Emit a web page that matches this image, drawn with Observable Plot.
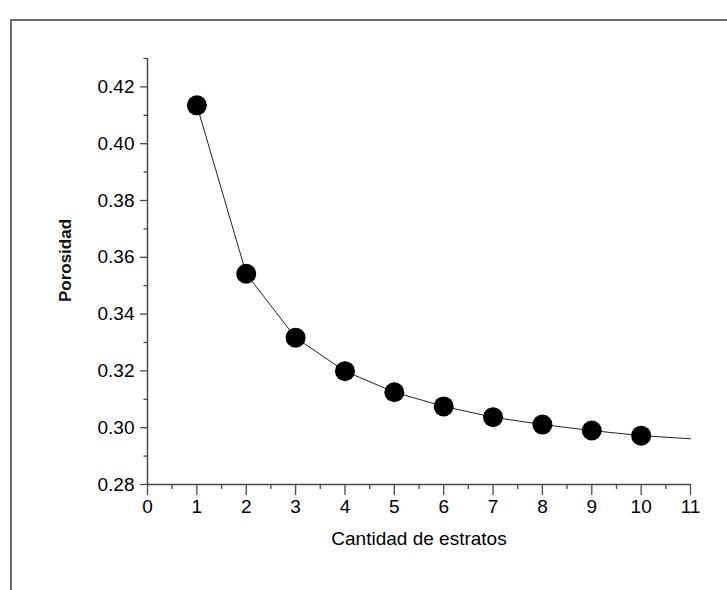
<!DOCTYPE html>
<html>
<head>
<meta charset="utf-8">
<script src="https://cdn.jsdelivr.net/npm/d3@7"></script>
<script src="https://cdn.jsdelivr.net/npm/@observablehq/plot@0.6"></script>
<style>
  html, body { margin: 0; padding: 0; background: #fff; }
  #wrap { position: relative; width: 727px; height: 590px; overflow: hidden; }
  #frame { position: absolute; left: 10px; top: 19px; right: -5px; bottom: -5px;
           border-top: 2px solid #6a6a6a; border-left: 2px solid #6a6a6a; pointer-events: none; }
  #chart { position: absolute; left: 0; top: 0; }
</style>
</head>
<body>
<div id="wrap"><div id="chart"></div><div id="frame"></div></div>
<script>
// Measured points
const estratos = [1, 2, 3, 4, 5, 6, 7, 8, 9, 10];
const porosidad = [0.4135, 0.3542, 0.3317, 0.3199, 0.3125, 0.3075, 0.3037, 0.3011, 0.2990, 0.2972];
// Fitted curve (drawn through the points and extended to 11)
const curvaX = [1, 2, 3, 4, 5, 6, 7, 8, 9, 10, 11];
const curvaY = [0.4135, 0.3542, 0.3317, 0.3199, 0.3125, 0.3075, 0.3037, 0.3011, 0.2990, 0.2972, 0.2961];
// Tick values
const xMajor = [0, 1, 2, 3, 4, 5, 6, 7, 8, 9, 10, 11];
const xMinor = [0.5, 1.5, 2.5, 3.5, 4.5, 5.5, 6.5, 7.5, 8.5, 9.5, 10.5];
const yMajor = [0.28, 0.30, 0.32, 0.34, 0.36, 0.38, 0.40, 0.42];
const yMinor = [0.29, 0.31, 0.33, 0.35, 0.37, 0.39, 0.41, 0.43];
const xLabel = "Cantidad de estratos";
const yLabel = "Porosidad";

const puntos = estratos.map((x, i) => ({x, y: porosidad[i]}));
const curva = curvaX.map((x, i) => ({x, y: curvaY[i]}));

const axisColor = "#4a4a4a";
const font = "'Liberation Sans', Arial, sans-serif";

const chart = Plot.plot({
  width: 727,
  height: 590,
  marginLeft: 147,
  marginRight: 37,
  marginTop: 58,
  marginBottom: 106,
  style: {fontFamily: font, fontSize: "18px", background: "transparent", color: "#000"},
  x: {domain: [0, 11]},
  y: {domain: [0.28, 0.43]},
  marks: [
    Plot.ruleX([0], {y1: 0.28, y2: 0.43, stroke: axisColor, strokeWidth: 1.5}),
    Plot.ruleY([0.28], {x1: 0, x2: 11, stroke: axisColor, strokeWidth: 1.5}),
    Plot.axisX({ticks: xMajor, tickSize: 11, tickPadding: 4, tickFormat: d => String(d),
      fontSize: 19, stroke: axisColor, strokeWidth: 1.3, label: null}),
    Plot.axisX({ticks: xMinor, tickSize: 5, tickFormat: () => "", stroke: axisColor, strokeWidth: 1.3, label: null}),
    Plot.axisY({ticks: yMajor, tickSize: 7, tickPadding: 6, tickFormat: d => d.toFixed(2),
      fontSize: 19, stroke: axisColor, strokeWidth: 1.3, label: null}),
    Plot.axisY({ticks: yMinor, tickSize: 3.5, tickFormat: () => "", stroke: axisColor, strokeWidth: 1.3, label: null}),
    Plot.text([xLabel], {frameAnchor: "bottom", dy: 60, fontSize: 19, fill: "#000", text: d => d}),
    Plot.text([yLabel], {frameAnchor: "left", textAnchor: "middle", dx: -82, dy: -11, rotate: -90, fontSize: 17, fontWeight: "bold", fill: "#111", text: d => d}),
    Plot.line(curva, {x: "x", y: "y", stroke: "#222", strokeWidth: 1}),
    Plot.dot(puntos, {x: "x", y: "y", r: 10, fill: "#000", stroke: "none"})
  ]
});
document.getElementById("chart").appendChild(chart);
</script>
</body>
</html>
